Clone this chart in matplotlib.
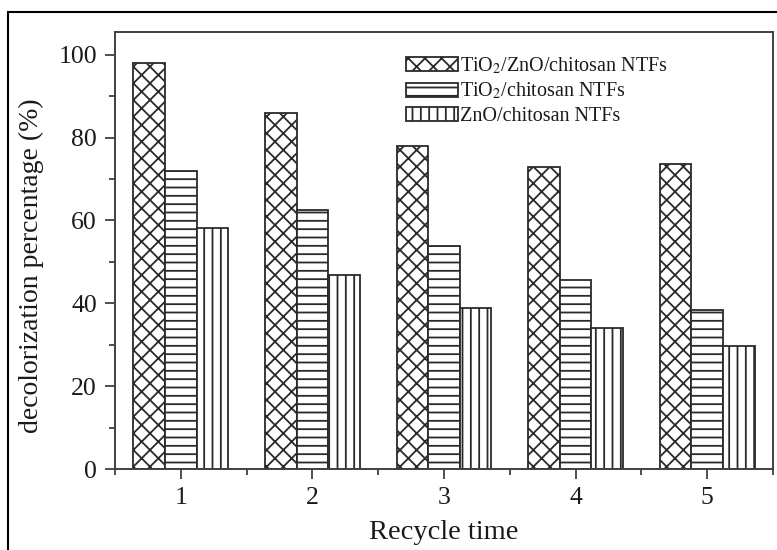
import numpy as np
import matplotlib
matplotlib.use('Agg')
import matplotlib.pyplot as plt
from matplotlib.patches import Rectangle
from matplotlib.ticker import MultipleLocator, FixedLocator

cycles = [1, 2, 3, 4, 5]
tio2_zno = [98.0, 86.0, 78.0, 72.9, 73.7]
tio2 = [72.0, 62.5, 53.9, 45.6, 38.4]
zno = [58.2, 46.9, 38.9, 34.0, 29.7]
labels = [r'TiO$_2$/ZnO/chitosan NTFs', r'TiO$_2$/chitosan NTFs', 'ZnO/chitosan NTFs']

DARK = "#2a2a2a"
plt.rcParams.update({
    "font.family": ["Liberation Serif", "DejaVu Serif"],
    "mathtext.fontset": "stix",
    "hatch.linewidth": 1.3,
    "hatch.color": DARK,
    "axes.linewidth": 1.4,
    "axes.edgecolor": "#404040",
    "xtick.color": "#404040",
    "ytick.color": "#404040",
    "xtick.labelcolor": "#1a1a1a",
    "ytick.labelcolor": "#1a1a1a",
})

fig = plt.figure(figsize=(7.77, 5.5), dpi=100)
ax = fig.add_axes([115/777, 1 - 469/550, (773 - 115)/777, (469 - 32)/550])

x = np.array(cycles, dtype=float)
w = 0.24
for off, vals, hatch, lab in zip([-w, 0, w], [tio2_zno, tio2, zno], ['xx', '--', '||'], labels):
    ax.bar(x + off, vals, width=w, facecolor='white', edgecolor=DARK,
           linewidth=1.3, hatch=hatch, label=lab, zorder=2)

ax.set_xlim(0.5, 5.5)
ax.set_ylim(0, 105.5)
ax.set_xticks(cycles)
ax.xaxis.set_minor_locator(FixedLocator([0.5, 1.5, 2.5, 3.5, 4.5, 5.5]))
ax.yaxis.set_major_locator(MultipleLocator(20))
ax.yaxis.set_minor_locator(MultipleLocator(10))
ax.tick_params(which='major', direction='out', length=7, width=1.3, labelsize=18.5, pad=6)
ax.tick_params(which='minor', direction='out', length=4, width=1.3)

ax.set_ylabel('decolorization percentage (%)', fontsize=20, color="#1a1a1a")
ax.yaxis.set_label_coords(-0.108, 0.465)
ax.set_xlabel('Recycle time', fontsize=20.5, labelpad=8, color="#1a1a1a")

leg = ax.legend(loc='upper left', bbox_to_anchor=(0.43, 0.965), frameon=False,
                fontsize=14.5, handlelength=2.6, handleheight=0.7,
                handletextpad=0.1, labelspacing=0.25, borderaxespad=0)
for t in leg.get_texts():
    t.set_color("#1a1a1a")

# outer frame of the figure panel
fig.add_artist(Rectangle((8/777, -0.1), 1.2, 1 - 12/550 + 0.1, transform=fig.transFigure,
                         fill=False, edgecolor='black', linewidth=1.5, clip_on=False))

fig.savefig('out.png', dpi=100)
